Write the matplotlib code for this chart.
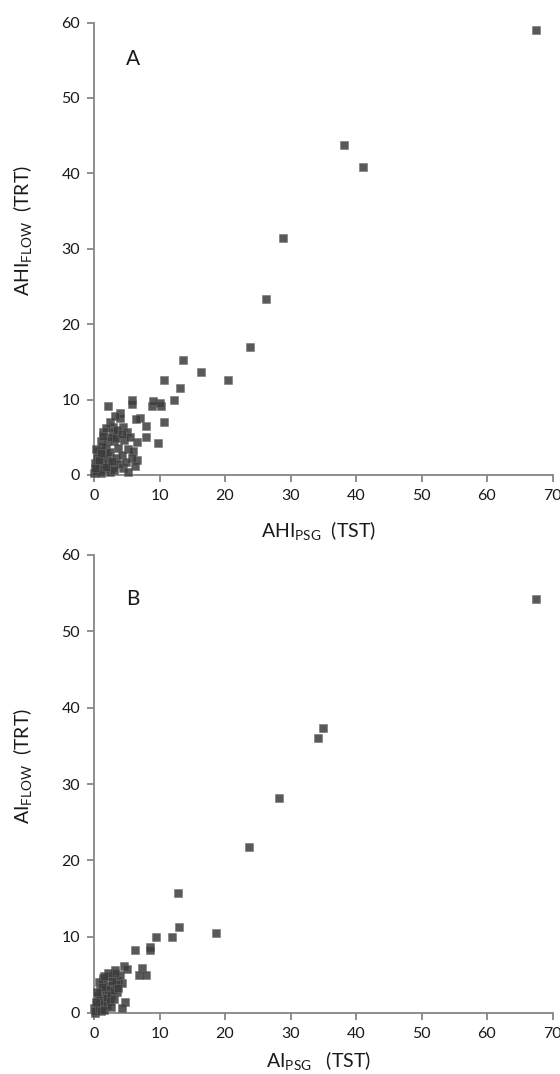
import matplotlib
matplotlib.use("Agg")
import matplotlib.pyplot as plt

# panel A: AHI (PSG, TST) vs AHI (flow, TRT)
ahi_psg = [67.5, 38.2, 41.0, 28.8, 26.3, 23.8, 20.4, 16.4, 13.6, 13.1, 12.2, 10.7, 10.3, 10.1,
           8.8, 9.0, 10.7, 7.9, 7.0, 7.9, 9.7, 5.85, 5.85, 2.2, 3.9, 4.0, 6.4, 2.9, 4.5, 1.4,
           2.9, 5.0, 6.5, 1.0, 2.0, 3.0, 4.6, 5.2, 6.0, 1.0, 2.0, 6.5, 6.3, 2.9, 4.5, 0.5,
           0.9, 5.2, 0.2, 0.5, 0.0, 0.3, 0.8, 1.2, 1.5, 0.6, 1.8, 2.5, 3.3, 2.2, 1.6, 0.4,
           1.2, 2.6, 3.5, 2.4, 3.2, 1.8, 3.6, 4.2, 1.0, 2.4, 3.8, 0.1, 1.3, 3.4, 4.3, 5.5,
           5.8, 4.9, 0.7, 1.9, 2.7, 0.3, 1.1, 3.1]
ahi_flow = [59.0, 43.8, 40.9, 31.4, 23.3, 17.0, 12.6, 13.6, 15.2, 11.5, 9.9, 12.6, 9.1, 9.6,
            9.1, 9.8, 7.0, 6.5, 7.6, 5.0, 4.2, 9.9, 9.4, 9.2, 8.2, 7.5, 7.4, 6.4, 6.4, 5.7,
            5.7, 5.7, 4.4, 4.5, 4.5, 4.5, 4.7, 3.4, 3.2, 2.5, 2.5, 2.0, 1.2, 1.1, 0.9, 0.9,
            0.6, 0.4, 1.6, 1.4, 0.2, 0.5, 1.2, 1.8, 2.8, 3.2, 3.6, 3.0, 2.2, 1.6, 0.8, 2.2,
            3.8, 5.0, 6.0, 7.0, 7.8, 6.2, 3.6, 2.6, 0.3, 0.4, 1.4, 0.9, 5.2, 4.9, 5.4, 5.1,
            2.3, 1.7, 2.0, 1.0, 1.8, 3.4, 2.9, 0.6]

# panel B: AI (PSG, TST) vs AI (flow, TRT)
ai_psg = [67.5, 34.9, 34.2, 28.3, 23.7, 12.8, 13.0, 9.5, 11.9, 18.6, 6.3, 8.5, 8.6, 7.3,
          6.8, 7.9, 4.6, 5.0, 3.2, 1.4, 4.7, 4.2, 4.0, 3.7, 4.2, 2.4, 1.4, 2.9, 3.5, 0.9,
          1.9, 0.9, 1.4, 0.4, 0.0, 0.15, 3.2, 0.5, 1.0, 1.2, 1.6, 2.0, 2.2, 2.6, 3.0, 3.3,
          2.0, 0.6, 1.8, 2.8, 0.2, 0.8, 1.1, 2.4, 3.0, 0.3, 1.5, 2.6, 0.7, 1.2, 3.6, 2.2,
          0.4, 1.6]
ai_flow = [54.3, 37.4, 36.0, 28.2, 21.7, 15.75, 11.3, 10.0, 10.0, 10.5, 8.2, 8.7, 8.3, 5.9,
           5.0, 5.0, 6.1, 5.8, 5.6, 4.6, 1.5, 0.6, 5.0, 4.3, 3.9, 4.8, 4.3, 3.5, 2.8, 3.0,
           2.6, 1.7, 1.05, 0.4, 0.6, 0.0, 5.2, 1.0, 0.8, 2.0, 1.5, 2.0, 3.0, 2.4, 3.0, 3.8,
           1.0, 2.2, 3.6, 4.2, 0.2, 0.5, 0.2, 1.6, 1.8, 1.5, 0.4, 0.8, 4.0, 3.4, 3.3, 5.2,
           2.8, 4.8]

x_ticks = [0, 10, 20, 30, 40, 50, 60, 70]
y_ticks = [0, 10, 20, 30, 40, 50, 60]

plt.rcParams['font.family'] = ['Lato', 'DejaVu Sans']
plt.rcParams['mathtext.fontset'] = 'custom'
plt.rcParams['mathtext.rm'] = 'Lato'

AXIS_GREY = '#868686'


def draw_panel(ax, xs, ys, letter, xlabel, ylabel, letter_y, xlabel_y):
    ax.plot(xs, ys, linestyle='none', marker='s', markersize=6.2,
            markerfacecolor='#3c3c3c', markeredgecolor='#6a6a6a', markeredgewidth=0.4,
            alpha=0.85, clip_on=False, zorder=3)
    ax.set_xlim(0, 70)
    ax.set_ylim(0, 60)
    ax.set_xticks(x_ticks)
    ax.set_yticks(y_ticks)
    for side in ['top', 'right']:
        ax.spines[side].set_visible(False)
    for side in ['left', 'bottom']:
        ax.spines[side].set_color(AXIS_GREY)
        ax.spines[side].set_linewidth(1.3)
    ax.tick_params(direction='out', length=5, width=1.3, color=AXIS_GREY,
                   labelsize=11.5, labelcolor='#1a1a1a', pad=5)
    ax.set_xlabel(xlabel, fontsize=14, color='#1a1a1a', va='center')
    ax.set_ylabel(ylabel, fontsize=14, color='#1a1a1a', va='center')
    ax.xaxis.set_label_coords(0.49, xlabel_y)
    ax.yaxis.set_label_coords(-0.155, 0.54)
    ax.text(0.085, letter_y, letter, transform=ax.transAxes, fontsize=15,
            color='#1a1a1a', ha='center', va='center')


fig = plt.figure(figsize=(5.6, 10.74), dpi=100)
ax_a = fig.add_axes([94 / 560, 1 - 475 / 1074, 458.5 / 560, 452.5 / 1074])
ax_b = fig.add_axes([94 / 560, 1 - 1013 / 1074, 458.5 / 560, 458 / 1074])

draw_panel(ax_a, ahi_psg, ahi_flow, 'A',
           r'AHI$_{\mathregular{PSG}}$  (TST)', r'AHI$_{\mathregular{FLOW}}$  (TRT)', 0.92, -0.124)
draw_panel(ax_b, ai_psg, ai_flow, 'B',
           r'AI$_{\mathregular{PSG}}$   (TST)', r'AI$_{\mathregular{FLOW}}$  (TRT)', 0.905, -0.106)

fig.savefig('out.png', dpi=100)
